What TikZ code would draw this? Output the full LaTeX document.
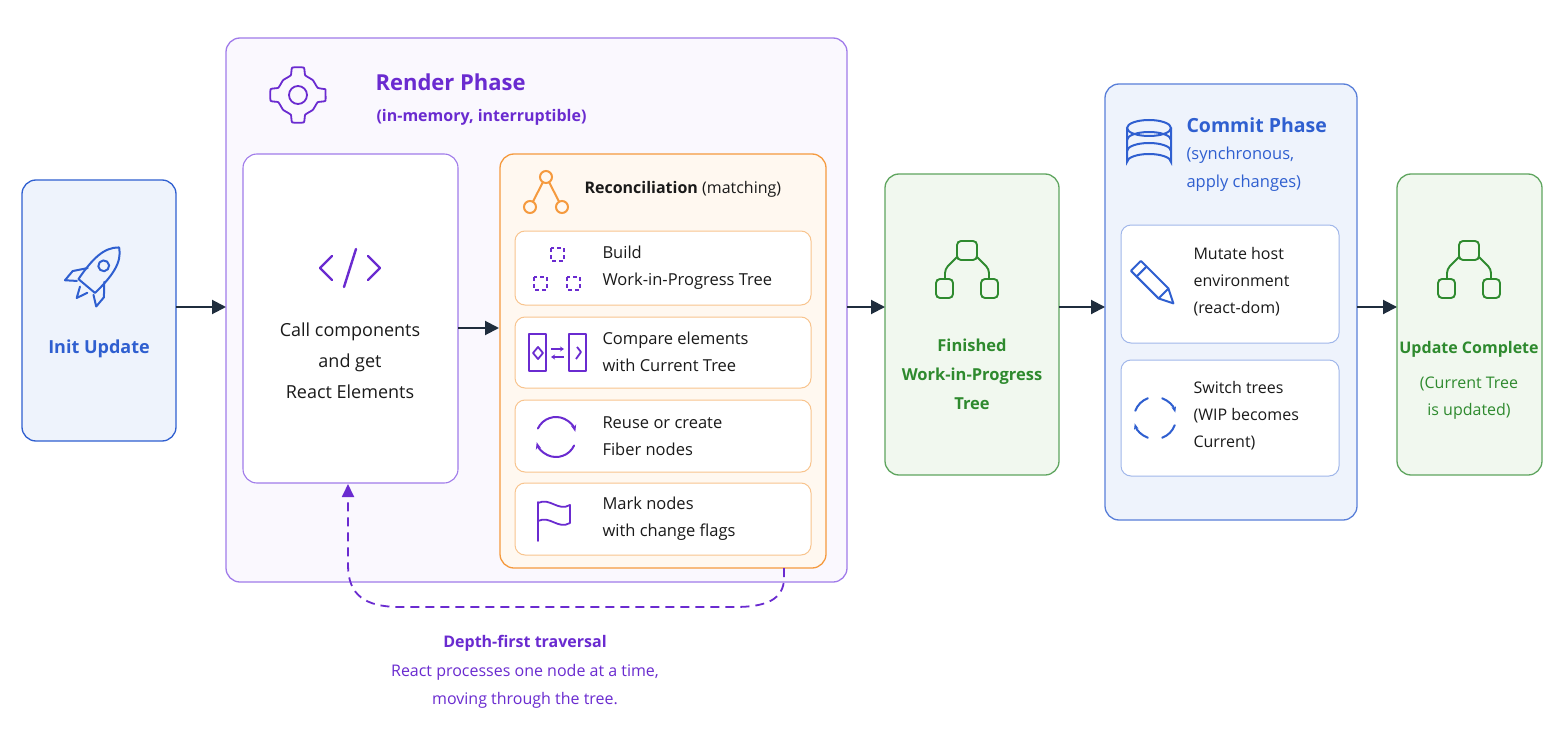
\documentclass[tikz,border=0pt]{standalone}
\usepackage{fontspec}
\setmainfont{Open Sans}
\usetikzlibrary{arrows.meta}
\definecolor{pblue}{HTML}{2F5FD0}
\definecolor{pbluefill}{HTML}{EEF3FC}
\definecolor{ppur}{HTML}{6A2BD0}
\definecolor{ppurl}{HTML}{A07BEA}
\definecolor{ppurfill}{HTML}{FAF8FE}
\definecolor{porg}{HTML}{F59A3E}
\definecolor{porgl}{HTML}{F8C48E}
\definecolor{porgfill}{HTML}{FFF8F0}
\definecolor{pgreen}{HTML}{2E8A2E}
\definecolor{pgreenb}{HTML}{5FA55F}
\definecolor{pgreenfill}{HTML}{F1F8EF}
\definecolor{pnavy}{HTML}{1F2D3D}
\definecolor{ptext}{HTML}{1A1A1A}
\tikzset{
 box/.style={draw, line width=1.3pt, rounded corners=14pt},
 sub/.style={draw, line width=1pt, rounded corners=10pt, fill=white},
 arr/.style={draw=pnavy, line width=2pt, -{Triangle[length=14pt,width=14pt]}},
 txt/.style={font=\fontsize{18}{30}\selectfont, text=ptext, align=left, anchor=west},
 ic/.style={line width=2pt, line cap=round, line join=round},
}
\begin{document}
\begin{tikzpicture}[x=1pt,y=-1pt]
\useasboundingbox (0,0) rectangle (1560,754);
\fill[white] (0,0) rectangle (1560,754);
% boxes
\draw[box, draw=pblue, fill=pbluefill] (22,180) rectangle (176,441);
\draw[box, draw=ppurl, fill=ppurfill] (226,38) rectangle (847,582);
\draw[box, draw=ppurl, fill=white, line width=1.1pt] (243,154) rectangle (458,483);
\draw[box, draw=porg, fill=porgfill] (500,154) rectangle (826,568);
\foreach \a/\b in {231/305,317/388,400/472,483/555}
 \draw[sub, draw=porgl] (515,\a) rectangle (811,\b);
\draw[box, draw=pgreenb, fill=pgreenfill] (885,174) rectangle (1059,475);
\draw[box, draw=pblue!80, fill=pbluefill] (1105,84) rectangle (1357,520);
\draw[sub, draw=pblue!45] (1121,225) rectangle (1339,343);
\draw[sub, draw=pblue!45] (1121,360) rectangle (1339,476);
\draw[box, draw=pgreenb, fill=pgreenfill] (1397,174) rectangle (1542,475);
% anchor coordinates
\coordinate (initE) at (176,307);
\coordinate (renderW) at (226,307);
\coordinate (callE) at (458,328);
\coordinate (recW) at (499,328);
\coordinate (renderE) at (847,307);
\coordinate (finW) at (885,307);
\coordinate (finE) at (1059,307);
\coordinate (comW) at (1105,307);
\coordinate (comE) at (1357,307);
\coordinate (updW) at (1397,307);
\coordinate (recS) at (784,568);
\coordinate (callS) at (348,484);
\draw[arr] (initE) -- (renderW);
\draw[arr] (callE) -- (recW);
\draw[arr] (renderE) -- (finW);
\draw[arr] (finE) -- (comW);
\draw[arr] (comE) -- (updW);
\draw[ppur, line width=1.8pt, dash pattern=on 9pt off 6pt, -{Triangle[length=13pt,width=12pt]}]
 (recS) -- (784,578) .. controls (784,600) and (765,607) .. (735,607) -- (400,607)
 .. controls (365,607) and (348,595) .. (348,565) -- (callS);
% texts
\node[font=\fontsize{18}{22}\selectfont\bfseries, text=pblue] at (99,349) {Init Update};
\node[font=\fontsize{22}{28}\selectfont\bfseries, text=ppur, anchor=west] at (372,82) {Render Phase};
\node[font=\fontsize{16}{20}\selectfont\bfseries, text=ppur, anchor=west] at (373,117) {(in-memory, interruptible)};
\node[font=\fontsize{18}{31}\selectfont, text=ptext, align=center] at (350,361) {Call components\\and get\\React Elements};
\node[anchor=west, text=ptext, font=\fontsize{16}{20}\selectfont] at (581,189) {\textbf{Reconciliation} (matching)};
\node[txt, font=\fontsize{16.5}{27}\selectfont] at (599,268) {Build\\Work-in-Progress Tree};
\node[txt, font=\fontsize{16.5}{27}\selectfont] at (599,352) {Compare elements\\with Current Tree};
\node[txt, font=\fontsize{16.5}{27}\selectfont] at (599,436) {Reuse or create\\Fiber nodes};
\node[txt, font=\fontsize{16.5}{27}\selectfont] at (599,519) {Mark nodes\\with change flags};
\node[font=\fontsize{16.5}{29}\selectfont\bfseries, text=pgreen, align=center] at (972,374) {Finished\\Work-in-Progress\\Tree};
\node[font=\fontsize{19.5}{25}\selectfont\bfseries, text=pblue, anchor=west] at (1183,125) {Commit Phase};
\node[font=\fontsize{16.5}{28}\selectfont, text=pblue, anchor=west, align=left] at (1183,169) {(synchronous,\\apply changes)};
\node[txt, font=\fontsize{16}{27}\selectfont] at (1190,282) {Mutate host\\environment\\(react-dom)};
\node[txt, font=\fontsize{16}{27}\selectfont] at (1190,416) {Switch trees\\(WIP becomes\\Current)};
\node[font=\fontsize{16}{20}\selectfont\bfseries, text=pgreen] at (1469,349) {Update Complete};
\node[font=\fontsize{16}{27}\selectfont, text=pgreen, align=center] at (1469,398) {(Current Tree\\is updated)};
\node[font=\fontsize{16}{28.5}\selectfont, text=ppur, align=center] at (525,672) {\textbf{Depth-first traversal}\\React processes one node at a time,\\moving through the tree.};
% rocket
\begin{scope}[shift={(96,275)}, rotate=-40, scale=1.2, pblue, ic]
 \draw (0,-30) .. controls (10,-22) and (11,-8) .. (9,12) -- (-9,12) .. controls (-11,-8) and (-10,-22) .. (0,-30);
 \draw (0,-10) circle (4.5);
 \draw (-9,0) -- (-17,10) -- (-17,20) -- (-9,14);
 \draw (9,0) -- (17,10) -- (17,20) -- (9,14);
 \draw (-4,16) -- (0,25) -- (4,16);
\end{scope}
% gear
\begin{scope}[shift={(298,95)}, ppur, line width=1.8pt, line join=round]
 \draw (0,0) circle (9);
 \draw plot[smooth cycle, tension=0.25] coordinates {
 (-12:28) (12:28) (20:21) (45:21) (70:21) (78:28) (102:28) (110:21) (135:21) (160:21) (168:28)
 (192:28) (200:21) (225:21) (250:21) (258:28) (282:28) (290:21) (315:21) (340:21) (348:28)};
\end{scope}
% code icon
\begin{scope}[shift={(350,268)}, ppur, ic, line width=2.4pt]
 \draw (-18,-12) -- (-30,0) -- (-18,12);
 \draw (18,-12) -- (30,0) -- (18,12);
 \draw (6,-19) -- (-6,19);
\end{scope}
% reconciliation icon
\begin{scope}[shift={(546,192)}, porg, line width=2pt]
 \draw (0,-15) circle (6); \draw (-16,15) circle (6); \draw (16,15) circle (6);
 \draw (-3,-10) -- (-13,9.5); \draw (3,-10) -- (13,9.5);
\end{scope}
% dashed squares
\begin{scope}[ppur, line width=1.8pt, dash pattern=on 4pt off 3pt]
 \draw (551,248) rectangle (564,261);
 \draw (534,277) rectangle (547,290);
 \draw (567,277) rectangle (580,290);
\end{scope}
% compare icon
\begin{scope}[ppur, line width=1.8pt, line join=round]
 \draw (529,334) rectangle (546,371);
 \draw (569,334) rectangle (586,371);
 \draw (538,347) -- (543,353) -- (538,359) -- (533,353) -- cycle;
 \draw (577,347) -- (581,352) -- (576,359);
 \draw[-{Stealth[length=4pt,width=5pt]}] (551,349) -- (564,349);
 \draw[{Stealth[length=4pt,width=5pt]}-] (551,357) -- (564,357);
\end{scope}
% reuse icon
\begin{scope}[shift={(556,437)}, ppur, ic, line width=2pt]
 \draw[-{Stealth[length=7pt]}] (25:20) arc (25:165:20);
 \draw[-{Stealth[length=7pt]}] (205:20) arc (205:345:20);
\end{scope}
% flag
\begin{scope}[ppur, ic, line width=1.8pt]
 \draw (538,541) -- (538,502);
 \draw (538,503) .. controls (550,497) and (558,512) .. (570,505) -- (570,523) .. controls (558,530) and (550,515) .. (538,521);
\end{scope}
% tree icons
\foreach \cx/\cy in {967/275, 1469/275}{
 \begin{scope}[shift={(\cx,\cy)}, pgreen, line width=1.9pt, rounded corners=4pt]
  \draw (-10,-34) rectangle (10,-15);
  \draw (-10,-18) -- (-22,-6) -- (-22,4);
  \draw (10,-18) -- (22,-6) -- (22,4);
  \draw (-31,4) rectangle (-14,23);
  \draw (14,4) rectangle (31,23);
 \end{scope}}
% database
\begin{scope}[shift={(1149,145)}, pblue, line width=2pt]
 \draw (0,-17) ellipse (22 and 8);
 \draw (-22,-17) -- (-22,17) arc (180:360:22 and 8) -- (22,-17);
 \draw (-22,-5) arc (180:360:22 and 8);
 \draw (-22,6) arc (180:360:22 and 8);
\end{scope}
% pencil
\begin{scope}[shift={(1155,285)}, rotate=45, pblue, ic, line width=2pt]
 \draw (-7,-27) -- (7,-27) -- (7,12) -- (0,26) -- (-7,12) -- cycle;
 \draw (-7,-19) -- (7,-19);
 \draw (-7,12) -- (7,12);
\end{scope}
% switch
\begin{scope}[shift={(1155,418)}, pblue, ic, line width=2pt]
 \draw[-{Stealth[length=6pt]}] (110:21) arc (110:165:21);
 \draw (20:21) arc (20:70:21);
 \draw (200:21) arc (200:250:21);
 \draw[-{Stealth[length=6pt]}] (290:21) arc (290:345:21);
\end{scope}
\end{tikzpicture}
\end{document}
